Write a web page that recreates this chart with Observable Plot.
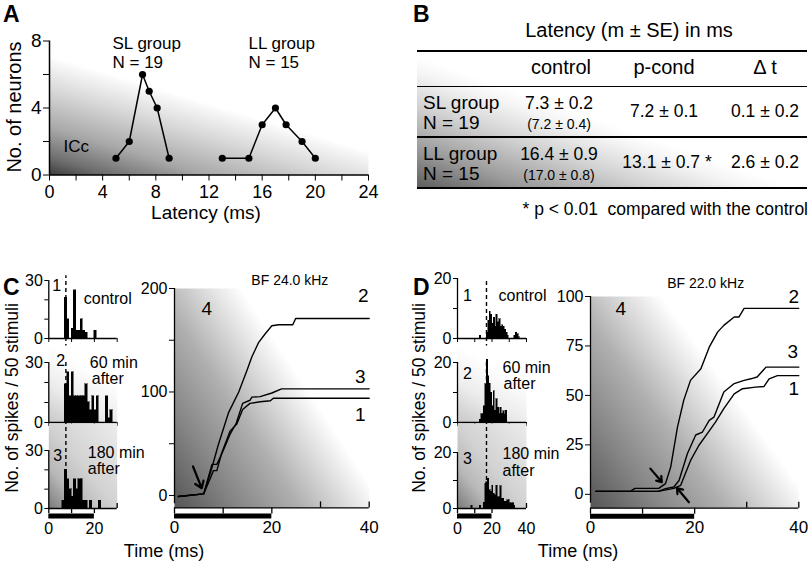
<!DOCTYPE html>
<html><head><meta charset="utf-8">
<script src="https://cdn.jsdelivr.net/npm/d3@7"></script>
<script src="https://cdn.jsdelivr.net/npm/@observablehq/plot@0.6"></script>
<style>
html,body{margin:0;padding:0;background:#fff;}
#root{position:relative;width:812px;height:569px;overflow:hidden;font-family:"Liberation Sans",Arial,Helvetica,sans-serif;color:#000;}
.t{position:absolute;white-space:pre;line-height:1;}
.c{transform:translate(-50%,-50%);}
.l{transform:translate(0,-50%);}
.r{transform:translate(-100%,-50%);}
.rot{transform:translate(-50%,-50%) rotate(-90deg);}
.pl{position:absolute;font-weight:bold;font-size:23px;line-height:1;}
.hl{position:absolute;background:#000;}
</style></head>
<body><div id="root"></div>
<script>
// ---------------- Panel A data ----------------
const slLatency = [5, 6, 7, 7.5, 8.1, 9];
const slCount   = [1, 2, 6, 5, 4, 1];
const llLatency = [13, 15, 16, 17, 17.8, 19, 20];
const llCount   = [1, 1, 3, 4, 3, 2, 1];
const latencyTicks  = [0, 2, 4, 6, 8, 10, 12, 14, 16, 18, 20, 22, 24];
const latencyLabels = [0, 4, 8, 12, 16, 20, 24];
const neuronTicks   = [0, 2, 4, 6, 8];
const neuronLabels  = [0, 4, 8];

// ---------------- Panel B data ----------------
const tableTitle   = "Latency (m ± SE) in ms";
const tableColumns = ["control", "p-cond", "Δ t"];
const tableGroups  = ["SL group", "LL group"];
const tableN       = ["N = 19", "N = 15"];
const controlMean  = ["7.3 ± 0.2", "16.4 ± 0.9"];
const controlAlt   = ["(7.2 ± 0.4)", "(17.0 ± 0.8)"];
const pcondMean    = ["7.2 ± 0.1", "13.1 ± 0.7 *"];
const deltaMean    = ["0.1 ± 0.2", "2.6 ± 0.2"];
const tableNote    = "* p < 0.01  compared with the control";

// ---------------- Panel C data (PSTH: [bin start ms, spikes]) ----------------
const histC1 = [[7,21],[8,10],[10,5],[11,25],[12,4],[13,4],[14,10],[15,4],[16,3],[20,4]];
const histC2 = [[7,19],[8,25],[9,13],[10,25],[11,13],[12,13],[13,13],[14,13],[15,13],[16,19],[17,10],[18,6],[19,13],[20,6],[21,13],[25,13],[26,2],[27,6]];
const histC3 = [[6,4],[7,20],[8,15],[9,10],[10,6],[11,15],[12,10],[13,15],[14,15],[15,4],[16,4],[18,4],[22,4]];
const histCBin = 1;
const histCTicks = [0, 10, 20, 30];
const histCYTicks = [0, 10, 20, 30];
const histCYLabels = [0, 30];
const latencyLineC = 7.5;
// cumulative spikes [ms, spikes]
const cumC1 = [[0.8,-1],[6,1.5],[8,24],[8.7,24],[9.7,41],[11.4,62],[12.8,69],[14,83],[15.5,89],[17.6,90.5],[19.7,91.5],[20.3,94],[40,94]];
const cumC2 = [[0.8,-1],[6,1.5],[7.7,27],[9,49],[11.1,80],[13.2,100],[14.9,121],[15.9,134],[17.3,148],[18.6,156],[20,164],[21.4,165],[24.3,165],[24.9,171],[40,171]];
const cumC3 = [[0.8,-1],[6,1.5],[7.7,30],[8.7,30],[9.7,40],[11.4,59],[12.7,70],[14,89],[15.5,92],[15.9,95],[17.6,95.5],[20,99],[22,103],[40,103]];
const cumCYTicks = [0, 50, 100, 150, 200];
const cumCYLabels = [0, 100, 200];
const arrowC = [[3.8, 28, 5.6, 7]];

// ---------------- Panel D data ----------------
const histD1 = [[13,1],[17,2],[17.8,6],[18.6,9],[19.4,8],[20.2,5],[21,7],[21.8,4],[22.6,8],[23.4,5.5],[24.2,6.5],[25,4],[25.8,4.5],[26.6,4],[27.4,3],[28.2,2],[29,1],[33,1],[33.8,2],[34.6,1.5],[35.4,0.5]];
const histD2 = [[12.9,1],[13.7,2.7],[14.5,2.7],[15.3,5.4],[16.1,12.7],[16.9,21],[17.7,15.4],[18.5,13],[19.3,10],[20.1,5.4],[20.9,10.4],[21.7,4],[22.5,7.7],[23.3,5],[24.1,2.7],[24.9,5],[25.7,3],[26.5,3.8],[27.3,2.7],[28.1,4]];
const histD3 = [[7.9,1],[12.9,1],[15.2,2],[16,8.8],[16.8,9.4],[17.6,10.6],[18.4,6.5],[19.2,6],[20,8.2],[20.8,5.3],[21.6,4.7],[22.4,8.2],[23.2,4],[24,4],[24.8,8],[25.6,3.5],[26.4,3.5],[27.2,2.4],[28,2.4],[28.8,3],[29.6,3],[30.4,1.8],[31.2,1.8],[32,1.8],[32.8,1]];
const histDBin = 0.8;
const histDTicks = [0, 10, 20, 30, 40];
const histDYTicks = [0, 10, 20];
const histDYLabels = [0, 20];
const latencyLineD = 16.8;
const cumD1 = [[1,1.5],[13,1.5],[16,3],[17.3,4.5],[19.2,17],[20.8,24.7],[22.4,30.6],[24,36.5],[25.6,43.3],[27.6,50.8],[29.2,53.4],[31.7,54.2],[33.3,54.5],[34.3,58.4],[35.9,60],[40,60]];
const cumD2 = [[1,1.5],[7.7,1.5],[8.5,3],[13.1,3],[14.4,5.4],[15.4,13.8],[16.7,34],[17.9,47.5],[19.2,57.6],[21.2,63.5],[22.8,74.4],[24.4,82],[25.6,85.4],[27.6,89.6],[28.5,89.6],[29.5,94],[40,94]];
const cumD3 = [[1,1.5],[13,1.5],[14.4,2.9],[16,3.7],[17,7],[18.6,20.5],[20.2,30],[21.5,31.5],[22.8,37.4],[23.7,39],[25.6,51.7],[27.6,56],[29.5,57.6],[30.8,58.4],[32,59.3],[33.7,64.3],[40,64.3]];
const cumDYTicks = [0, 25, 50, 75, 100];
const arrowD = [[11.5, 13, 13.7, 6.2], [18.9, -4, 16.6, 3.2]];

const stimulus = [0, 20];
const stimDividers = [0, 10, 20];
const timeLabels = [0, 20, 40];

// ---------------- helpers ----------------
const FONT = '"Liberation Sans", Arial, Helvetica, sans-serif';
const STYLE = {fontFamily: FONT, fontSize: "15px", background: "transparent", overflow: "visible", color: "black"};
const NS = "http://www.w3.org/2000/svg";
const root = document.getElementById("root");

function addGradient(svg, id, [x1, y1, x2, y2], stops) {
  const defs = document.createElementNS(NS, "defs");
  const lg = document.createElementNS(NS, "linearGradient");
  lg.setAttribute("id", id);
  lg.setAttribute("x1", x1); lg.setAttribute("y1", y1);
  lg.setAttribute("x2", x2); lg.setAttribute("y2", y2);
  for (const [o, c] of stops) {
    const s = document.createElementNS(NS, "stop");
    s.setAttribute("offset", o); s.setAttribute("stop-color", c);
    lg.appendChild(s);
  }
  defs.appendChild(lg);
  svg.insertBefore(defs, svg.firstChild);
}
function place(el, left, top) {
  el.style.position = "absolute"; el.style.left = left + "px"; el.style.top = top + "px";
  root.appendChild(el); return el;
}
function label(text, x, y, size, cls = "c", extra = {}) {
  const d = document.createElement("div");
  d.className = "t " + cls; d.textContent = text;
  d.style.left = x + "px"; d.style.top = y + "px"; d.style.fontSize = size + "px";
  Object.assign(d.style, extra);
  root.appendChild(d); return d;
}
function panelLabel(text, x, y) {
  const d = document.createElement("div"); d.className = "pl"; d.textContent = text;
  d.style.left = x + "px"; d.style.top = y + "px"; root.appendChild(d);
}
function framed(box, opts) {
  const {left, right, top, bottom, padL = 50, padR = 14, padT = 12, padB = 10} = box;
  const p = Plot.plot({
    ...opts, style: STYLE,
    width: right - left + padL + padR, height: bottom - top + padT + padB,
    marginLeft: padL, marginRight: padR, marginTop: padT, marginBottom: padB
  });
  place(p, left - padL, top - padT);
  return p;
}
const fx = d => d[0], fy = d => d[1];

// ---------------- Panel A ----------------
const slPts = slLatency.map((x, i) => ({x, y: slCount[i]}));
const llPts = llLatency.map((x, i) => ({x, y: llCount[i]}));
const pA = framed({left: 49, right: 368, top: 40.5, bottom: 174.5, padL: 49, padR: 32, padT: 40.5, padB: 50}, {
  x: {domain: [0, 24], axis: null},
  y: {domain: [0, 8], axis: null},
  marks: [
    Plot.frame({fill: "url(#gA)"}),
    Plot.ruleX([0], {strokeWidth: 1.5}),
    Plot.ruleY([0], {strokeWidth: 1.5}),
    Plot.axisX({ticks: latencyTicks, label: null, tickSize: 6, tickPadding: 4, fontSize: 18, tickFormat: d => latencyLabels.includes(d) ? d : ""}),
    Plot.axisY({ticks: neuronTicks, label: null, tickSize: 6, tickPadding: 2, fontSize: 19, tickFormat: d => neuronLabels.includes(d) ? d : ""}),
    Plot.line(slPts, {x: "x", y: "y", strokeWidth: 1.5}),
    Plot.line(llPts, {x: "x", y: "y", strokeWidth: 1.5}),
    Plot.dot(slPts.concat(llPts), {x: "x", y: "y", r: 3.6, fill: "black"}),
    Plot.text(["SL group\nN = 19"], {text: d => d, frameAnchor: "top-left", dx: 63, dy: -6, textAnchor: "start", lineAnchor: "top", fontSize: 17, lineHeight: 1.15}),
    Plot.text(["LL group\nN = 15"], {text: d => d, frameAnchor: "top-left", dx: 199, dy: -6, textAnchor: "start", lineAnchor: "top", fontSize: 17, lineHeight: 1.15}),
    Plot.text(["ICc"], {text: d => d, frameAnchor: "bottom-left", dx: 14, dy: -28, textAnchor: "start", lineAnchor: "middle", fontSize: 17})
  ]
});
addGradient(pA, "gA", [0, 1, 0.42, 0.41], [[0, "#3c3c3c"], [0.15, "#6e6e6e"], [0.4, "#a8a8a8"], [0.7, "#d5d5d5"], [0.95, "#f7f7f7"], [1, "#ffffff"]]);
panelLabel("A", 3, 3);
label("No. of neurons", 14, 107, 20, "rot");
label("Latency (ms)", 206, 212, 19);

// ---------------- Panel B (table) ----------------
panelLabel("B", 413, 3);
label(tableTitle, 629, 30, 20);
{
  const bg = document.createElement("div");
  Object.assign(bg.style, {position: "absolute", left: "417px", top: "51px", width: "390px", height: "136px",
    background: "linear-gradient(to top right, #5e5e5e 0%, #9a9a9a 14%, #d2d2d2 30%, #f4f4f4 42%, #ffffff 48%)"});
  root.appendChild(bg);
  const lines = [[50, 2], [85.5, 1.5], [136, 1.5], [186.5, 2]];
  for (const [y, h] of lines) {
    const l = document.createElement("div"); l.className = "hl";
    Object.assign(l.style, {left: "417px", top: y + "px", width: "390px", height: h + "px"});
    root.appendChild(l);
  }
  const colX = [561, 664, 765];
  tableColumns.forEach((c, i) => label(c, colX[i], 67, 20));
  const rowY = [112, 163];
  tableGroups.forEach((g, i) => {
    label(g, 423, rowY[i] - 10, 19, "l");
    label(tableN[i], 423, rowY[i] + 10, 19, "l");
    label(controlMean[i], colX[0] - 2, rowY[i] - 8, 17.5);
    label(controlAlt[i], colX[0] - 2, rowY[i] + 12, 14);
    label(pcondMean[i], colX[1] + (i ? 3 : 0), rowY[i], 17.5);
    label(deltaMean[i], colX[2], rowY[i], 17.5);
  });
  label(tableNote, 808, 210, 17.5, "r");
}

// ---------------- histogram factory ----------------
function histogram(box, {bins, binW, xMax, yMax, xTicks, yTicks, yLabels, dashX, dashY1, dashY2, grad, gradInsetTop = 0, notes, ruler, upTicks, rulerLabels}) {
  const marks = [];
  if (grad) marks.push(Plot.frame({fill: `url(#${grad.id})`, insetTop: -gradInsetTop}));
  marks.push(
    Plot.rectY(bins, {x1: fx, x2: d => d[0] + binW, y: fy, fill: "black", stroke: "black", strokeWidth: 0.5, inset: 0, shapeRendering: "crispEdges"}),
    Plot.ruleX([0], {y1: 0, y2: yMax, strokeWidth: 1.3}),
    Plot.ruleY([0], {x1: 0, x2: xMax, strokeWidth: 1.3}),
    Plot.axisY({ticks: yTicks, label: null, tickSize: 4, tickPadding: 2, fontSize: 16, tickFormat: d => yLabels.includes(d) ? d : ""})
  );
  if (!ruler) {
    marks.push(Plot.axisX({ticks: xTicks, label: null, tickSize: 4, tickFormat: () => ""}));
  } else {
    marks.push(
      Plot.ruleX(stimDividers, {y1: 0, y2: 0, insetBottom: -5, strokeWidth: 1.3}),
      Plot.ruleX(upTicks, {y1: 0, y2: 0, insetTop: -5, strokeWidth: 1.3}),
      Plot.ruleY([0], {x1: stimulus[0], x2: stimulus[1], dy: 7.5, strokeWidth: 5}),
      Plot.axisX({ticks: rulerLabels, label: null, tickSize: 0, tickPadding: 14, fontSize: 16})
    );
  }
  marks.push(Plot.ruleX([dashX], {y1: dashY1, y2: dashY2, strokeDasharray: "4,3", strokeWidth: 1.4}));
  for (const n of notes) {
    marks.push(Plot.text([n.t], {text: d => d, frameAnchor: "top-left", dx: n.dx, dy: n.dy, textAnchor: n.a || "middle", lineAnchor: "middle", fontSize: n.s || 16}));
  }
  const p = framed(box, {x: {domain: [0, xMax], axis: null}, y: {domain: [0, yMax], axis: null}, marks});
  if (grad) addGradient(p, grad.id, grad.v, grad.stops);
  return p;
}
const gradH2 = v => ({id: v, v: [0, 1, 0.4, 0.2], stops: [[0, "#c8c8c8"], [0.5, "#ececec"], [1, "#ffffff"]]});
const gradH3 = v => ({id: v, v: [0, 1, 1, 0], stops: [[0, "#7a7a7a"], [0.25, "#b8b8b8"], [0.5, "#d2d2d2"], [1, "#ececec"]]});

// ---------------- Panel C ----------------
panelLabel("C", 3, 276);
label("No. of spikes / 50 stimuli", 13, 398, 17.5, "rot");
label("Time (ms)", 164, 551, 18);
const cX = {left: 48.3, right: 116.7, padL: 48.3, padR: 12};
histogram({...cX, top: 280, bottom: 338, padT: 10, padB: 8}, {
  bins: histC1, binW: histCBin, xMax: 30, yMax: 30, xTicks: histCTicks, yTicks: histCYTicks, yLabels: histCYLabels,
  dashX: latencyLineC, dashY1: -12.4, dashY2: 32.5,
  notes: [{t: "1", dx: 8, dy: 5}, {t: "control", dx: 35, dy: 18, a: "start"}]
});
histogram({...cX, top: 362, bottom: 422, padT: 10, padB: 8}, {
  bins: histC2, binW: histCBin, xMax: 30, yMax: 30, xTicks: histCTicks, yTicks: histCYTicks, yLabels: histCYLabels,
  dashX: latencyLineC, dashY1: 0, dashY2: 30, grad: gradH2("gC2"), gradInsetTop: 17,
  notes: [{t: "2", dx: 12, dy: -2}, {t: "60 min", dx: 41, dy: 0, a: "start"}, {t: "after", dx: 43, dy: 16, a: "start"}]
});
histogram({...cX, top: 450, bottom: 508, padT: 10, padB: 32}, {
  bins: histC3, binW: histCBin, xMax: 30, yMax: 30, xTicks: histCTicks, yTicks: histCYTicks, yLabels: histCYLabels,
  dashX: latencyLineC, dashY1: 0, dashY2: 44.5, grad: gradH3("gC3"), gradInsetTop: 27,
  ruler: true, upTicks: [30], rulerLabels: [0, 20],
  notes: [{t: "3", dx: 9, dy: 5}, {t: "180 min", dx: 39, dy: 2, a: "start"}, {t: "after", dx: 39, dy: 18, a: "start"}]
});

function cumulative(box, {yDom, yTicks, yLabels, yAxisFrom, curves, grad, arrows, title, titleDx, titleDy, fourDx, fourDy}) {
  const yb = yDom[0];
  const marks = [
    Plot.frame({fill: `url(#${grad})`}),
    Plot.ruleX([0], {y1: yAxisFrom, y2: yDom[1], strokeWidth: 1.3}),
    Plot.axisY({ticks: yTicks, label: null, tickSize: 5, tickPadding: 2, fontSize: 16, tickFormat: d => yLabels.includes(d) ? d : ""}),
    Plot.ruleY([yb], {x1: 0, x2: 40, strokeWidth: 1.3}),
    Plot.ruleX(stimDividers, {y1: yb, y2: yb, insetBottom: -6, strokeWidth: 1.3}),
    Plot.ruleX([30, 40], {y1: yb, y2: yb, insetTop: -6, strokeWidth: 1.3}),
    Plot.ruleY([yb], {x1: stimulus[0], x2: stimulus[1], dy: 8, strokeWidth: 5}),
    Plot.axisX({ticks: timeLabels, label: null, tickSize: 0, tickPadding: 13, fontSize: 17})
  ];
  for (const c of curves) {
    marks.push(Plot.line(c.data, {x: fx, y: fy, strokeWidth: 1.4}));
    marks.push(Plot.text([c.data[c.data.length - 1]], {x: fx, y: fy, text: () => c.name, dx: c.dx, dy: c.dy, lineAnchor: "middle", fontSize: 19}));
  }
  marks.push(Plot.arrow(arrows, {x1: d => d[0], y1: d => d[1], x2: d => d[2], y2: d => d[3], headLength: 8, headAngle: 70, strokeWidth: 2.2}));
  marks.push(Plot.text(["4"], {text: d => d, frameAnchor: "top-left", dx: fourDx, dy: fourDy, lineAnchor: "middle", fontSize: 19}));
  marks.push(Plot.text([title], {text: d => d, frameAnchor: "top", dx: titleDx, dy: titleDy, lineAnchor: "middle", fontSize: 14}));
  const p = framed(box, {x: {domain: [0, 40], axis: null}, y: {domain: yDom, axis: null}, marks});
  addGradient(p, grad, [0, 1, 0.7, 0.48], [[0, "#555555"], [0.3, "#858585"], [0.6, "#b0b0b0"], [0.85, "#e2e2e2"], [1, "#ffffff"]]);
  return p;
}
cumulative({left: 174.3, right: 369, top: 288.3, bottom: 507.7, padL: 40, padR: 14, padT: 20, padB: 34}, {
  yDom: [-12, 200], yTicks: cumCYTicks, yLabels: cumCYLabels, yAxisFrom: -8, grad: "gCumC",
  curves: [{data: cumC2, name: "2", dx: -6, dy: -23}, {data: cumC3, name: "3", dx: -9, dy: -12}, {data: cumC1, name: "1", dx: -9, dy: 17}],
  arrows: arrowC, title: "BF 24.0 kHz", titleDx: 18, titleDy: -8, fourDx: 27, fourDy: 20
});

// ---------------- Panel D ----------------
panelLabel("D", 413, 276);
label("No. of spikes / 50 stimuli", 420, 398, 17.5, "rot");
label("Time (ms)", 578, 551, 18);
const dX = {left: 457, right: 526, padL: 30, padR: 10};
histogram({...dX, top: 278, bottom: 338, padT: 10, padB: 8}, {
  bins: histD1, binW: histDBin, xMax: 40, yMax: 20, xTicks: histDTicks, yTicks: histDYTicks, yLabels: histDYLabels,
  dashX: latencyLineD, dashY1: -8, dashY2: 20,
  notes: [{t: "1", dx: 10, dy: 17}, {t: "control", dx: 41, dy: 17, a: "start"}]
});
histogram({...dX, top: 362, bottom: 422, padT: 10, padB: 8}, {
  bins: histD2, binW: histDBin, xMax: 40, yMax: 20, xTicks: histDTicks, yTicks: histDYTicks, yLabels: histDYLabels,
  dashX: latencyLineD, dashY1: 0, dashY2: 20, grad: gradH2("gD2"), gradInsetTop: 17,
  notes: [{t: "2", dx: 10, dy: 11}, {t: "60 min", dx: 45, dy: 5, a: "start"}, {t: "after", dx: 46, dy: 21, a: "start"}]
});
histogram({...dX, top: 452, bottom: 508, padT: 10, padB: 32}, {
  bins: histD3, binW: histDBin, xMax: 40, yMax: 20, xTicks: histDTicks, yTicks: histDYTicks, yLabels: histDYLabels,
  dashX: latencyLineD, dashY1: 0, dashY2: 30.5, grad: gradH3("gD3"), gradInsetTop: 29,
  ruler: true, upTicks: [30, 40], rulerLabels: timeLabels,
  notes: [{t: "3", dx: 10, dy: 6}, {t: "180 min", dx: 45, dy: 1, a: "start"}, {t: "after", dx: 45, dy: 18, a: "start"}]
});
cumulative({left: 590, right: 798.3, top: 296, bottom: 507.7, padL: 36, padR: 13, padT: 20, padB: 34}, {
  yDom: [-7, 100], yTicks: cumDYTicks, yLabels: cumDYTicks, yAxisFrom: -4.5, grad: "gCumD",
  curves: [{data: cumD2, name: "2", dx: -5, dy: -11}, {data: cumD3, name: "3", dx: -6, dy: -15}, {data: cumD1, name: "1", dx: -5, dy: 13}],
  arrows: arrowD, title: "BF 22.0 kHz", titleDx: 11, titleDy: -13, fourDx: 25, fourDy: 12
});
</script></body></html>
